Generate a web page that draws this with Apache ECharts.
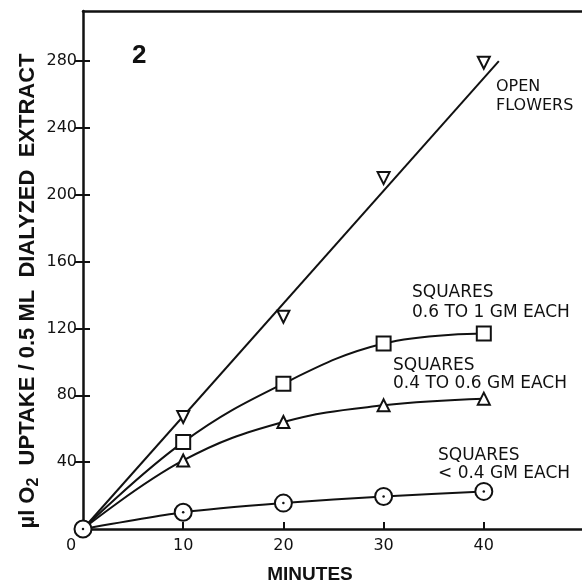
<!DOCTYPE html>
<html>
<head>
<meta charset="utf-8">
<script src="https://cdn.jsdelivr.net/npm/echarts@6/dist/echarts.min.js"></script>
<style>
  html, body { margin: 0; padding: 0; background: #fff; }
  #chart { width: 582px; height: 584px; }
</style>
</head>
<body>
<div id="chart"></div>
<script>
// minutes / ul O2 uptake
const xTicks = [0, 10, 20, 30, 40];
const yTicks = [40, 80, 120, 160, 200, 240, 280];
const openFlowerPoints = [[10, 67], [20, 127], [30, 210], [40, 279]];
const openFlowerFit = [[0, 0], [41.5, 280]];
const sqLarge = [[0, 0], [10, 52], [20, 87], [30, 111], [40, 117]];   // 0.6 to 1 gm
const sqMedium = [[0, 0], [10, 41], [20, 64], [30, 74], [40, 78]];    // 0.4 to 0.6 gm
const sqSmall = [[0, 0], [10, 10], [20, 15.5], [30, 19.5], [40, 22.5]]; // < 0.4 gm

const font = 'DejaVu Sans';
const black = '#111';

let myChart = echarts.init(document.getElementById('chart'));

// hide marker at the origin for the series that share the circle there
function skipOrigin(arr) {
  return arr.map(p => (p[0] === 0 ? { value: p, symbol: 'none' } : p));
}

const marker = { color: '#fff', borderColor: black, borderWidth: 2, opacity: 1 };
const line = { color: black, width: 2 };
const note = '17px "DejaVu Sans"';

myChart.setOption({
  animation: false,
  grid: { left: 83, top: 11, right: 0, bottom: 55 },
  xAxis: [
    {
      type: 'value', min: 0, max: 49.8, interval: 10,
      axisLine: { lineStyle: { color: black, width: 2.5 } },
      axisTick: { inside: true, length: 7, customValues: xTicks, lineStyle: { color: black, width: 2 } },
      splitLine: { show: false },
      axisLabel: {
        margin: 9, color: black, fontFamily: font, fontSize: 16,
        customValues: xTicks,
        formatter: v => (v === 0 ? '{z|0}' : String(v)),
        rich: { z: { padding: [0, 24, 0, 0], fontFamily: font, fontSize: 16, color: black } }
      }
    },
    {
      type: 'value', position: 'top', min: 0, max: 49.8,
      axisLine: { show: true, onZero: false, lineStyle: { color: black, width: 2.5 } },
      axisTick: { show: false }, axisLabel: { show: false }, splitLine: { show: false }
    }
  ],
  yAxis: [
    {
      type: 'value', min: 0, max: 310, interval: 40,
      axisLine: { show: true, lineStyle: { color: black, width: 2.5 } },
      axisTick: { show: true, length: 8, customValues: yTicks, lineStyle: { color: black, width: 2 } },
      splitLine: { show: false },
      axisLabel: {
        margin: 6, color: black, fontFamily: font, fontSize: 16,
        customValues: yTicks
      }
    },
    {
      type: 'value', min: 0, max: 310, interval: 40, position: 'left',
      axisLine: { show: false },
      axisTick: { show: true, inside: true, length: 7, customValues: yTicks, lineStyle: { color: black, width: 2 } },
      axisLabel: { show: false }, splitLine: { show: false }
    }
  ],
  graphic: [
    { type: 'text', left: 132, top: 43, style: { text: '2', font: 'bold 26px "Liberation Sans"', fill: black } },
    {
      type: 'text', x: 28, y: 291, rotation: Math.PI / 2,
      style: {
        text: 'µl O{s|2}  UPTAKE / 0.5 ML  DIALYZED  EXTRACT',
        font: 'bold 22px "Liberation Sans"', fill: black,
        align: 'center', verticalAlign: 'middle',
        rich: { s: { font: 'bold 16px "Liberation Sans"', fill: black, padding: [12, 0, 0, 0] } }
      }
    },
    { type: 'text', x: 310, y: 575, style: { text: 'MINUTES', font: 'bold 19px "Liberation Sans"', fill: black, align: 'center', verticalAlign: 'middle' } },
    { type: 'text', left: 496, top: 77, style: { text: 'OPEN\nFLOWERS', font: '16px "DejaVu Sans"', lineHeight: 19, fill: black } },
    { type: 'text', left: 412, top: 283, style: { text: 'SQUARES\n0.6 TO 1 GM EACH', font: note, lineHeight: 20, fill: black } },
    { type: 'text', left: 393, top: 357, style: { text: 'SQUARES\n0.4 TO 0.6 GM EACH', font: note, lineHeight: 18, fill: black } },
    { type: 'text', left: 438, top: 447, style: { text: 'SQUARES\n< 0.4 GM EACH', font: note, lineHeight: 18, fill: black } }
  ],
  series: [
    {
      type: 'line', data: openFlowerFit, symbol: 'none',
      lineStyle: line
    },
    {
      type: 'scatter', data: openFlowerPoints, symbol: 'triangle', symbolRotate: 180,
      symbolSize: [12, 12], itemStyle: marker, z: 5
    },
    {
      type: 'line', data: skipOrigin(sqLarge), smooth: 0.4, symbol: 'rect', symbolSize: 14,
      lineStyle: line, itemStyle: marker, z: 4
    },
    {
      type: 'line', data: skipOrigin(sqMedium), smooth: 0.4, symbol: 'triangle', symbolSize: [12, 12],
      lineStyle: line, itemStyle: marker, z: 4
    },
    {
      type: 'line', data: sqSmall, smooth: 0.2, symbol: 'circle', symbolSize: 17,
      lineStyle: line, itemStyle: marker, z: 6
    },
    {
      type: 'scatter', data: sqSmall, symbol: 'circle', symbolSize: 2.5,
      itemStyle: { color: black, opacity: 1 }, z: 7
    }
  ]
});
</script>
</body>
</html>
